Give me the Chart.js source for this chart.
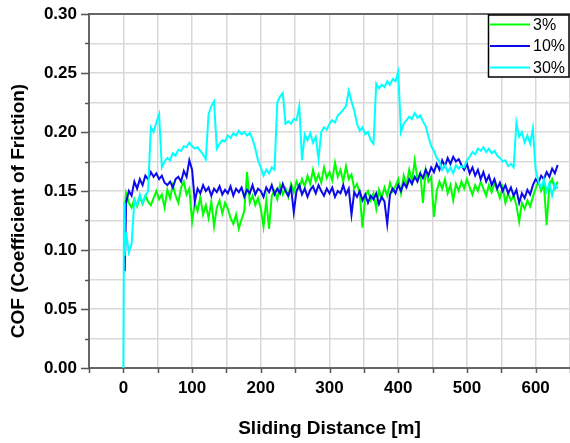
<!DOCTYPE html>
<html>
<head>
<meta charset="utf-8">
<script src="https://cdn.jsdelivr.net/npm/chart.js@4.4.1/dist/chart.umd.min.js"></script>
<style>
  body { margin: 0; background: #fff; }
</style>
</head>
<body>
<canvas id="graf" width="570" height="443"></canvas>
<script>
// Sliding distance [m]
const distance = [
  0, 1, 2, 4, 8, 12, 16, 20, 24, 28,
  32, 36, 40, 44, 48, 52, 56, 60, 64, 68,
  72, 76, 80, 84, 88, 92, 96, 100, 104, 108,
  112, 116, 120, 124, 128, 132, 136, 140, 144, 148,
  152, 156, 160, 164, 168, 172, 176, 180, 184, 188,
  192, 196, 200, 204, 208, 212, 216, 220, 224, 228,
  232, 236, 240, 244, 248, 252, 256, 260, 264, 268,
  272, 276, 280, 284, 288, 292, 296, 300, 304, 308,
  312, 316, 320, 324, 328, 332, 336, 340, 344, 348,
  352, 356, 360, 364, 368, 372, 376, 380, 384, 388,
  392, 396, 400, 404, 408, 412, 416, 420, 424, 428,
  432, 436, 440, 444, 448, 452, 456, 460, 464, 468,
  472, 476, 480, 484, 488, 492, 496, 500, 504, 508,
  512, 516, 520, 524, 528, 532, 536, 540, 544, 548,
  552, 556, 560, 564, 568, 572, 576, 580, 584, 588,
  592, 596, 600, 604, 608, 612, 616, 620, 624, 628,
  632
]

// COF, 3%
const cof3 = [
  null, null, 0.135, 0.148, 0.140, 0.136, 0.143, 0.137, 0.145, 0.139,
  0.146, 0.141, 0.138, 0.144, 0.150, 0.143, 0.147, 0.136, 0.151, 0.144,
  0.155, 0.146, 0.140, 0.153, 0.158, 0.147, 0.152, 0.124, 0.140, 0.133,
  0.145, 0.130, 0.138, 0.127, 0.141, 0.120, 0.136, 0.142, 0.131, 0.140,
  0.135, 0.127, 0.122, 0.130, 0.118, 0.126, 0.133, 0.166, 0.140, 0.146,
  0.138, 0.144, 0.135, 0.120, 0.142, 0.118, 0.146, 0.150, 0.143, 0.155,
  0.147, 0.152, 0.145, 0.156, 0.149, 0.158, 0.152, 0.160, 0.154, 0.163,
  0.156, 0.168, 0.158, 0.164, 0.157, 0.170, 0.161, 0.166, 0.159, 0.174,
  0.162, 0.168, 0.158, 0.171, 0.160, 0.164, 0.152, 0.156, 0.148, 0.119,
  0.146, 0.150, 0.142, 0.148, 0.135, 0.151, 0.144, 0.153, 0.146, 0.157,
  0.150, 0.154, 0.160, 0.148, 0.163, 0.155, 0.168, 0.158, 0.176, 0.160,
  0.165, 0.140, 0.168, 0.158, 0.162, 0.128, 0.150, 0.158, 0.152, 0.160,
  0.148, 0.155, 0.142, 0.156, 0.150, 0.158, 0.152, 0.160, 0.153, 0.147,
  0.155, 0.150, 0.158, 0.152, 0.146, 0.155, 0.149, 0.157, 0.151, 0.144,
  0.153, 0.140, 0.148, 0.142, 0.146, 0.138, 0.124, 0.140, 0.135, 0.142,
  0.137, 0.145, 0.152, 0.158, 0.150, 0.156, 0.121, 0.155, 0.160, 0.152,
  0.158
]

// COF, 10%
const cof10 = [
  null, null, 0.082, 0.140, 0.150, 0.146, 0.158, 0.152, 0.160, 0.155,
  0.163, 0.160, 0.166, 0.162, 0.165, 0.160, 0.163, 0.157, 0.155, 0.158,
  0.153, 0.160, 0.162, 0.158, 0.167, 0.162, 0.176, 0.168, 0.141, 0.152,
  0.148, 0.155, 0.150, 0.153, 0.146, 0.152, 0.149, 0.154, 0.147, 0.151,
  0.148, 0.154, 0.146, 0.152, 0.149, 0.153, 0.145, 0.151, 0.148, 0.155,
  0.147, 0.152, 0.150, 0.145, 0.153, 0.149, 0.155, 0.147, 0.152, 0.148,
  0.156, 0.150, 0.146, 0.153, 0.132, 0.150, 0.155, 0.147, 0.152, 0.145,
  0.151, 0.154, 0.148, 0.155, 0.150, 0.146, 0.152, 0.148, 0.153, 0.145,
  0.150, 0.148, 0.155, 0.147, 0.152, 0.130, 0.149, 0.145, 0.150, 0.142,
  0.147, 0.140, 0.146, 0.143, 0.148, 0.139, 0.145, 0.141, 0.122, 0.147,
  0.152, 0.148, 0.155, 0.150, 0.157, 0.153, 0.160, 0.156, 0.162, 0.158,
  0.165, 0.161, 0.168, 0.163, 0.170, 0.166, 0.173, 0.168, 0.176, 0.171,
  0.178, 0.173, 0.179, 0.175, 0.177, 0.172, 0.168, 0.173, 0.165, 0.170,
  0.163, 0.168, 0.160, 0.166, 0.158, 0.163, 0.155, 0.160, 0.152, 0.157,
  0.150, 0.155, 0.148, 0.153, 0.146, 0.151, 0.140, 0.148, 0.144, 0.151,
  0.147, 0.155, 0.160, 0.157, 0.163, 0.160, 0.166, 0.162, 0.169, 0.165,
  0.172
]

// COF, 30%
const cof30 = [
  0.000, 0.140, 0.095, 0.115, 0.098, 0.105, 0.142, 0.138, 0.147, 0.140,
  0.146, 0.150, 0.204, 0.200, 0.208, 0.215, 0.170, 0.175, 0.178, 0.176,
  0.182, 0.180, 0.185, 0.184, 0.188, 0.187, 0.191, 0.188, 0.186, 0.187,
  0.184, 0.181, 0.177, 0.215, 0.222, 0.226, 0.186, 0.190, 0.193, 0.192,
  0.197, 0.195, 0.199, 0.197, 0.201, 0.198, 0.200, 0.197, 0.199, 0.194,
  0.186, 0.176, 0.170, 0.163, 0.168, 0.165, 0.170, 0.168, 0.225, 0.230,
  0.233, 0.207, 0.209, 0.207, 0.211, 0.210, 0.222, 0.176, 0.198, 0.193,
  0.199, 0.191, 0.196, 0.177, 0.200, 0.204, 0.202, 0.207, 0.210, 0.208,
  0.214, 0.216, 0.219, 0.222, 0.235, 0.226, 0.218, 0.207, 0.201, 0.204,
  0.198, 0.200, 0.193, 0.190, 0.241, 0.237, 0.240, 0.238, 0.243, 0.240,
  0.245, 0.243, 0.251, 0.200, 0.207, 0.210, 0.213, 0.211, 0.216, 0.212,
  0.214, 0.209, 0.205, 0.196, 0.188, 0.184, 0.178, 0.175, 0.168, 0.172,
  0.166, 0.170, 0.165, 0.172, 0.169, 0.171, 0.170, 0.176, 0.179, 0.183,
  0.181, 0.186, 0.184, 0.187, 0.183, 0.186, 0.182, 0.184, 0.180, 0.178,
  0.175, 0.176, 0.171, 0.173, 0.170, 0.208, 0.196, 0.200, 0.191, 0.197,
  0.190, 0.203, 0.168, 0.158, 0.153, 0.160, 0.150, 0.157, 0.146, 0.156,
  0.152
]

const seriesNames = ['3%', '10%', '30%']
const seriesColors = ['#00ff00', '#0a0aeb', '#00ffff']

// Tick positions (labels every 100 m / every 0.05)
const xTicks = [-50, 0, 50, 100, 150, 200, 250, 300, 350, 400, 450, 500, 550, 600, 650]
const yTicks = [0, 0.025, 0.05, 0.075, 0.1, 0.125, 0.15, 0.175, 0.2, 0.225, 0.25, 0.275, 0.3]

function points(values){
  return distance.map((d, i) => ({x: d, y: values[i]}))
}

const FONT = "'Liberation Sans', Arial, sans-serif"

// axis ticks, top border, y title and the boxed legend
const frame = {
  id: 'frame',
  afterDraw(chart){
    const ctx = chart.ctx
    const a = chart.chartArea
    const x = chart.scales.x
    const y = chart.scales.y
    ctx.save()
    ctx.strokeStyle = '#555'
    ctx.lineWidth = 1.5
    ctx.beginPath()
    xTicks.forEach(v => {
      const px = Math.round(x.getPixelForValue(v)) + 0.5
      ctx.moveTo(px, a.bottom)
      ctx.lineTo(px, a.bottom + 5)
    })
    yTicks.forEach(v => {
      const py = Math.round(y.getPixelForValue(v)) + 0.5
      const major = Math.round(v * 1000) % 50 == 0
      ctx.moveTo(a.left - (major ? 8 : 4), py)
      ctx.lineTo(a.left, py)
    })
    ctx.stroke()

    // top border
    ctx.lineWidth = 2
    ctx.strokeStyle = '#666'
    ctx.beginPath()
    ctx.moveTo(a.left, a.top)
    ctx.lineTo(a.right, a.top)
    ctx.stroke()

    // y title
    ctx.fillStyle = '#000'
    ctx.font = 'bold 19px ' + FONT
    ctx.textAlign = 'center'
    ctx.textBaseline = 'middle'
    ctx.translate(19, 211)
    ctx.rotate(-Math.PI / 2)
    ctx.fillText('COF (Coefficient of Friction)', 0, 0)
    ctx.setTransform(1, 0, 0, 1, 0, 0)

    // legend
    const lx = 488.5, ly = 15, lw = 80.5, lh = 62
    ctx.fillStyle = '#fff'
    ctx.fillRect(lx, ly, lw, lh)
    ctx.strokeStyle = '#000'
    ctx.lineWidth = 1.5
    ctx.strokeRect(lx, ly, lw, lh)
    ctx.font = '16px ' + FONT
    ctx.textAlign = 'left'
    ctx.textBaseline = 'middle'
    seriesNames.forEach((name, i) => {
      const yy = 24.5 + i * 21.5
      ctx.strokeStyle = seriesColors[i]
      ctx.lineWidth = 2
      ctx.beginPath()
      ctx.moveTo(490, yy)
      ctx.lineTo(530, yy)
      ctx.stroke()
      ctx.fillStyle = '#000'
      ctx.fillText(name, 533, yy + 1)
    })
    ctx.restore()
  }
}

const ctx = document.getElementById('graf')
const myChart = new Chart(ctx, {
  type: 'line',
  data: {
    datasets: [
      {label: seriesNames[0], data: points(cof3), borderColor: seriesColors[0], order: 3},
      {label: seriesNames[1], data: points(cof10), borderColor: seriesColors[1], order: 2},
      {label: seriesNames[2], data: points(cof30), borderColor: seriesColors[2], order: 1}
    ]
  },
  options: {
    responsive: false,
    animation: false,
    parsing: false,
    layout: {padding: {top: 14, right: 0, left: 0, bottom: 0}},
    elements: {
      point: {radius: 0},
      line: {borderWidth: 2, tension: 0}
    },
    plugins: {
      legend: {display: false},
      tooltip: {enabled: false}
    },
    scales: {
      x: {
        type: 'linear',
        min: -50,
        max: 650,
        afterBuildTicks: s => { s.ticks = xTicks.map(v => ({value: v})) },
        afterFit: s => { s.height = 75; s.paddingLeft = 0; s.paddingRight = 0 },
        grid: {color: '#d9d9d9', lineWidth: 1.5, drawTicks: false},
        border: {color: '#666', width: 2},
        ticks: {
          autoSkip: false,
          maxRotation: 0,
          padding: 10,
          color: '#000',
          font: {family: FONT, size: 17, weight: 'bold'},
          callback: v => (v % 100 == 0 ? String(v) : '')
        },
        title: {
          display: true,
          text: 'Sliding Distance [m]',
          color: '#000',
          font: {family: FONT, size: 19, weight: 'bold'},
          padding: {top: 4, bottom: 3}
        }
      },
      y: {
        min: 0,
        max: 0.3,
        afterBuildTicks: s => { s.ticks = yTicks.map(v => ({value: v})) },
        afterFit: s => { s.width = 89; s.paddingTop = 0; s.paddingBottom = 0 },
        grid: {
          color: c => (c.tick && c.tick.value == 0.3 ? 'rgba(0,0,0,0)' : '#d9d9d9'),
          lineWidth: 1.5,
          drawTicks: false
        },
        border: {color: '#666', width: 2},
        ticks: {
          padding: 12,
          color: '#000',
          font: {family: FONT, size: 17, weight: 'bold'},
          callback: v => (Math.round(v * 1000) % 50 == 0 ? v.toFixed(2) : '')
        }
      }
    }
  },
  plugins: [frame]
})
</script>
</body>
</html>
